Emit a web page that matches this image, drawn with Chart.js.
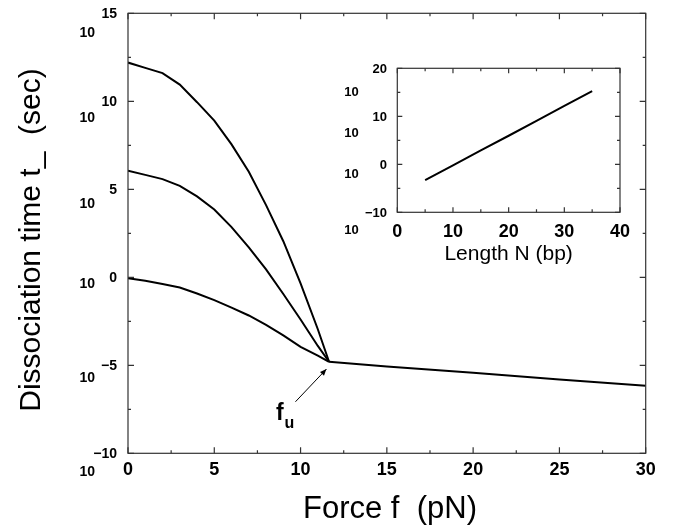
<!DOCTYPE html>
<html><head><meta charset="utf-8">
<script src="https://cdn.jsdelivr.net/npm/chart.js@4/dist/chart.umd.min.js"></script>
<style>
html,body{margin:0;padding:0;background:#fff;}
#wrap{position:relative;width:673px;height:525px;overflow:hidden;}
#main{position:absolute;left:0;top:0;}
#inset{position:absolute;left:330px;top:50px;}
</style>
</head><body>
<div id="wrap">
<canvas id="main" width="673" height="525"></canvas>
<canvas id="inset" width="320" height="215"></canvas>
</div>
<script>
// ---- main panel data (log10 of dissociation time, sec) ----
const forceX   = [0, 1, 2, 3, 4, 5, 6, 7, 8, 9, 10, 11, 11.65];
const tauLong  = [12.2, 11.9, 11.6, 10.95, 9.95, 8.9, 7.55, 6.0, 4.1, 2.05, -0.35, -2.95, -4.8];
const tauMid   = [6.05, 5.82, 5.58, 5.2, 4.6, 3.85, 2.85, 1.7, 0.45, -0.95, -2.4, -3.9, -4.8];
const tauShort = [-0.05, -0.2, -0.38, -0.58, -0.92, -1.3, -1.72, -2.17, -2.7, -3.3, -3.95, -4.45, -4.8];
const tailX    = [11.65, 15, 20, 25, 30];
const tailTau  = [-4.8, -5.07, -5.43, -5.8, -6.16];
const mainXTicks = [0, 5, 10, 15, 20, 25, 30];
const mainXMinor = [2.5, 7.5, 12.5, 17.5, 22.5, 27.5];
const mainYTicks = [-10, -5, 0, 5, 10, 15];
const mainYMinor = [-7.5, -2.5, 2.5, 7.5, 12.5];
const fuPoint = [11.65, -4.8];

// ---- inset data (log10 time vs length) ----
const lengthN = [5, 10, 15, 20, 25, 30, 35];
const tauN    = [-3.3, -0.2, 2.9, 5.95, 9.05, 12.15, 15.25];
const insetXTicks = [0, 10, 20, 30, 40];
const insetXMinor = [5, 15, 25, 35];
const insetYTicks = [-10, 0, 10, 20];
const insetYMinor = [-5, 5, 15];

const FONT = '"Liberation Sans", Arial, Helvetica, sans-serif';
const expText = v => (v < 0 ? '\u2212' + Math.abs(v) : String(v));
const mainBaseDrop  = [17.5, 12, 6, 14, 16, 18.4];
const insetBaseDrop = [17, 9, 16.3, 23.4];

function pts(xs, ys){ return xs.map((x,i)=>({x:x, y:ys[i]})); }

function drawTicks(ctx, a, xs, ys, xMaj, xMin, yMaj, yMin, lMaj, lMin){
  ctx.beginPath();
  const vx = (vals, L) => vals.forEach(v=>{const p=xs.getPixelForValue(v);
    ctx.moveTo(p,a.bottom); ctx.lineTo(p,a.bottom-L); ctx.moveTo(p,a.top); ctx.lineTo(p,a.top+L);});
  const vy = (vals, L) => vals.forEach(v=>{const p=ys.getPixelForValue(v);
    ctx.moveTo(a.left,p); ctx.lineTo(a.left+L,p); ctx.moveTo(a.right,p); ctx.lineTo(a.right-L,p);});
  vx(xMaj,lMaj); vx(xMin,lMin); vy(yMaj,lMaj); vy(yMin,lMin);
  ctx.stroke();
}

const mainDecor = {
  id:'mainDecor',
  afterDraw(chart){
    const ctx=chart.ctx, a=chart.chartArea, xs=chart.scales.x, ys=chart.scales.y;
    ctx.save();
    ctx.strokeStyle='#333'; ctx.lineWidth=1.2;
    ctx.strokeRect(a.left,a.top,a.right-a.left,a.bottom-a.top);
    drawTicks(ctx,a,xs,ys,mainXTicks,mainXMinor,mainYTicks,mainYMinor,6,3);
    ctx.fillStyle='#000'; ctx.textBaseline='alphabetic';
    ctx.font='bold 18px '+FONT; ctx.textAlign='center';
    mainXTicks.forEach(v=>ctx.fillText(String(v), xs.getPixelForValue(v), 475));
    ctx.font='bold 14px '+FONT; ctx.textAlign='right';
    mainYTicks.forEach((v,i)=>{
      const p=ys.getPixelForValue(v);
      ctx.fillText(expText(v), 117, p+5);
      ctx.fillText('10', 95, p+5+mainBaseDrop[i]);
    });
    // axis titles
    ctx.font='31px '+FONT; ctx.textAlign='center';
    ctx.fillText('Force f  (pN)', 390, 518);
    ctx.save();
    ctx.translate(40, 240); ctx.rotate(-Math.PI/2);
    ctx.font='30px '+FONT;
    ctx.fillText('Dissociation time t_  (sec)', 0, 0);
    ctx.restore();
    // f_u annotation with arrow
    const cx=xs.getPixelForValue(fuPoint[0]), cy=ys.getPixelForValue(fuPoint[1]);
    const tx=cx-2.6, ty=cy+7.3, sx=cx-33.6, sy=cy+40;
    ctx.strokeStyle='#000'; ctx.lineWidth=1;
    ctx.beginPath(); ctx.moveTo(sx,sy); ctx.lineTo(tx,ty); ctx.stroke();
    const ang=Math.atan2(ty-sy,tx-sx), L=7, W=0.4;
    ctx.beginPath(); ctx.moveTo(tx,ty);
    ctx.lineTo(tx-L*Math.cos(ang-W), ty-L*Math.sin(ang-W));
    ctx.lineTo(tx-L*Math.cos(ang+W), ty-L*Math.sin(ang+W));
    ctx.closePath(); ctx.fill();
    ctx.textAlign='left';
    ctx.font='bold 23px '+FONT; ctx.fillText('f', 276, 420);
    ctx.font='bold 16px '+FONT; ctx.fillText('u', 284.5, 428);
    ctx.restore();
  }
};

const insetDecor = {
  id:'insetDecor',
  afterDraw(chart){
    const ctx=chart.ctx, a=chart.chartArea, xs=chart.scales.x, ys=chart.scales.y;
    ctx.save();
    ctx.strokeStyle='#333'; ctx.lineWidth=1.2;
    ctx.strokeRect(a.left,a.top,a.right-a.left,a.bottom-a.top);
    drawTicks(ctx,a,xs,ys,insetXTicks,insetXMinor,insetYTicks,insetYMinor,5,3);
    ctx.fillStyle='#000'; ctx.textBaseline='alphabetic';
    ctx.font='bold 18px '+FONT; ctx.textAlign='center';
    insetXTicks.forEach(v=>ctx.fillText(String(v), xs.getPixelForValue(v), 186.8));
    ctx.font='bold 13px '+FONT;
    insetYTicks.forEach((v,i)=>{
      const p=ys.getPixelForValue(v);
      ctx.textAlign='right'; ctx.fillText(expText(v), 57, p+4.7);
      ctx.textAlign='center'; ctx.fillText('10', 21.5, p+4.7+insetBaseDrop[i]);
    });
    ctx.font='21px '+FONT; ctx.textAlign='center';
    ctx.fillText('Length N (bp)', (a.left+a.right)/2, 210);
    ctx.restore();
  }
};

const common = (pad) => ({
  responsive:false, animation:false, devicePixelRatio:1,
  layout:{padding:pad},
  plugins:{legend:{display:false}, tooltip:{enabled:false}},
  elements:{point:{radius:0}, line:{tension:0, borderWidth:2, borderColor:'#000', fill:false}}
});

const mainOpts = common({left:128, right:27.3, top:13.3, bottom:71.7});
mainOpts.scales = {
  x:{type:'linear', min:0, max:30, display:false},
  y:{type:'linear', min:-10, max:15, display:false}
};
new Chart(document.getElementById('main'), {
  type:'line',
  data:{datasets:[
    {label:'long',  data:pts(forceX,tauLong)},
    {label:'mid',   data:pts(forceX,tauMid)},
    {label:'short', data:pts(forceX,tauShort)},
    {label:'tail',  data:pts(tailX,tailTau)}
  ]},
  options:mainOpts,
  plugins:[mainDecor]
});

const insetOpts = common({left:67.3, right:30, top:18.3, bottom:52.7});
insetOpts.scales = {
  x:{type:'linear', min:0, max:40, display:false},
  y:{type:'linear', min:-10, max:20, display:false}
};
new Chart(document.getElementById('inset'), {
  type:'line',
  data:{datasets:[{label:'length', data:pts(lengthN,tauN)}]},
  options:insetOpts,
  plugins:[insetDecor]
});
</script>
</body></html>
